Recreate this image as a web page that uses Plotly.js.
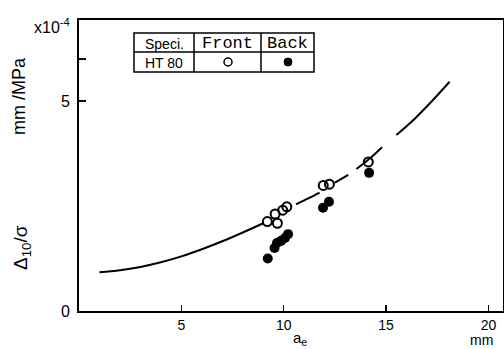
<!DOCTYPE html>
<html>
<head>
<meta charset="utf-8">
<script src="https://cdn.plot.ly/plotly-3.0.1.min.js"></script>
<style>html,body{margin:0;padding:0;background:#fff;}#chart{width:504px;height:349px;}</style>
</head>
<body>
<div id="chart"></div>
<script>
// Front (open circles): crack length a_e (mm), Δ10/σ (x10^-4 mm/MPa)
const frontX = [9.20, 9.58, 9.69, 9.95, 10.15, 11.93, 12.23, 14.13];
const frontY = [2.13, 2.31, 2.09, 2.40, 2.48, 2.99, 3.02, 3.55];
// Back (filled circles)
const backX = [9.22, 9.55, 9.67, 9.87, 10.06, 10.21, 11.92, 12.21, 14.17];
const backY = [1.25, 1.50, 1.62, 1.67, 1.74, 1.83, 2.46, 2.60, 3.29];
// Fitted curve, with gaps (null) where the original is broken
const curveX = [1.0, 2.0, 3.0, 4.0, 5.0, 6.0, 7.0, 8.0, 9.0, null,
                10.6, 11.2, 11.75, null,
                12.5, 13.15, null,
                13.55, 14.2, 14.8, null,
                15.5, 16.4, 17.3, 18.1];
const curveY = [0.92, 0.97, 1.05, 1.16, 1.30, 1.47, 1.66, 1.87, 2.09, null,
                2.54, 2.68, 2.82, null,
                3.06, 3.24, null,
                3.38, 3.63, 3.90, null,
                4.19, 4.58, 5.03, 5.46];
const xTicks = [5, 10, 15, 20];
const yTicks = [0, 5, 6];
const yTickText = ['0', '5', ''];

const L = 79, T = 20, W = 424, H = 291;
const px = x => (x - L) / W;
const py = y => (T + H - y) / H;
const FONT = 'Liberation Sans, Arial, sans-serif';
const MONO = 'Liberation Mono, DejaVu Sans Mono, monospace';

const traces = [
  {x: curveX, y: curveY, mode: 'lines', line: {color: '#000', width: 2, shape: 'spline', smoothing: 1},
   connectgaps: false, hoverinfo: 'skip', showlegend: false},
  {x: frontX, y: frontY, mode: 'markers', name: 'Front',
   marker: {symbol: 'circle-open', size: 9, color: '#000', line: {width: 2, color: '#000'}}, showlegend: false},
  {x: backX, y: backY, mode: 'markers', name: 'Back',
   marker: {symbol: 'circle', size: 10, color: '#000'}, showlegend: false}
];

// legend table geometry (pixels)
const tL = 134, tC1 = 194, tC2 = 261, tR = 314, tT = 33, tM = 52, tB = 72;
const lineStyle = {color: '#000', width: 1.5};
const shapes = [
  {type: 'rect', xref: 'paper', yref: 'paper', x0: px(tL), x1: px(tR), y0: py(tB), y1: py(tT), line: lineStyle},
  {type: 'line', xref: 'paper', yref: 'paper', x0: px(tL), x1: px(tR), y0: py(tM), y1: py(tM), line: lineStyle},
  {type: 'line', xref: 'paper', yref: 'paper', x0: px(tC1), x1: px(tC1), y0: py(tB), y1: py(tT), line: lineStyle},
  {type: 'line', xref: 'paper', yref: 'paper', x0: px(tC2), x1: px(tC2), y0: py(tB), y1: py(tT), line: lineStyle},
  {type: 'circle', xref: 'paper', yref: 'paper', x0: px(224), x1: px(232), y0: py(66), y1: py(58), line: {color: '#000', width: 1.5}},
  {type: 'circle', xref: 'paper', yref: 'paper', x0: px(284), x1: px(292), y0: py(66), y1: py(58), fillcolor: '#000', line: {color: '#000', width: 1}}
];

const ann = (text, x, y, size, opts) => Object.assign({
  text: text, xref: 'paper', yref: 'paper', x: px(x), y: py(y), showarrow: false,
  xanchor: 'center', yanchor: 'middle', font: {family: FONT, size: size, color: '#000'}
}, opts || {});

const annotations = [
  ann('Speci.', (tL + tC1) / 2, (tT + tM) / 2 + 1, 14),
  ann('Front', (tC1 + tC2) / 2, (tT + tM) / 2 + 1, 17, {font: {family: MONO, size: 17, color: '#000'}}),
  ann('Back', (tC2 + tR) / 2, (tT + tM) / 2 + 1, 17, {font: {family: MONO, size: 17, color: '#000'}}),
  ann('HT 80', (tL + tC1) / 2, (tM + tB) / 2 + 1, 14),
  ann('x10<sup>-4</sup>', 52, 26, 16),
  ann('mm /MPa', 19, 96, 18, {textangle: -90}),
  ann('Δ<sub>10</sub>/σ', 22, 248, 19, {textangle: -90}),
  ann('a<sub>e</sub>', 300, 349, 15, {yanchor: 'bottom', borderpad: 0}),
  ann('mm', 481, 349, 14, {yanchor: 'bottom', borderpad: 0})
];

const layout = {
  width: 504, height: 349,
  margin: {l: L, r: 504 - L - W, t: T, b: 349 - T - H, pad: 0},
  paper_bgcolor: '#fff', plot_bgcolor: '#fff',
  font: {family: FONT, size: 16, color: '#000'},
  xaxis: {range: [0, 20.71], tickvals: xTicks, ticks: 'inside', ticklen: 6, tickwidth: 1.5, tickcolor: '#000',
          showline: true, mirror: true, linecolor: '#000', linewidth: 2, showgrid: false, zeroline: false,
          ticklabelstandoff: 0, tickfont: {family: FONT, size: 14, color: '#000'}},
  yaxis: {range: [0, 6.93], tickvals: yTicks, ticktext: yTickText, ticks: 'inside', ticklen: 7, tickwidth: 1.5, tickcolor: '#000',
          showline: true, mirror: true, linecolor: '#000', linewidth: 2, showgrid: false, zeroline: false,
          ticklabelstandoff: 4, tickfont: {family: FONT, size: 16, color: '#000'}},
  shapes: shapes,
  annotations: annotations,
  showlegend: false
};

Plotly.newPlot('chart', traces, layout, {staticPlot: true, displayModeBar: false});
</script>
</body>
</html>
